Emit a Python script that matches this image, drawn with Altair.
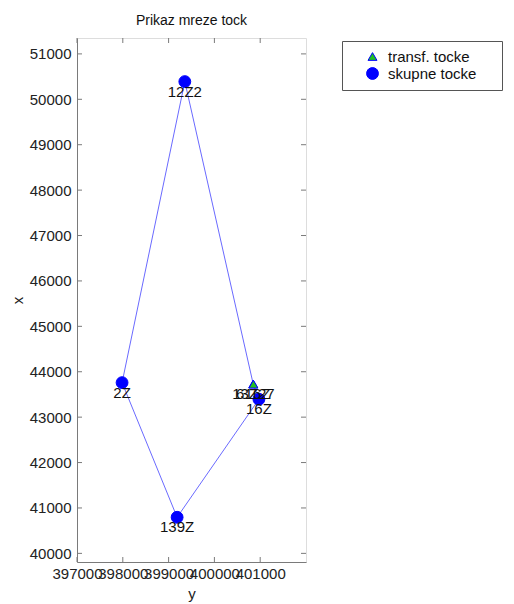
import altair as alt
import pandas as pd

# ---- data ----
names = ["12Z2", "2Z", "139Z", "16Z", "616Z", "13Z27"]
y_coord = [399354, 397984, 399186, 400972, 400847, 400852]   # easting (horizontal axis "y")
x_coord = [50390, 43760, 40795, 43394, 43731, 43726]         # northing (vertical axis "x")
kinds = ["skupne tocke", "skupne tocke", "skupne tocke", "skupne tocke",
         "transf. tocke", "transf. tocke"]

route = ["12Z2", "616Z", "16Z", "139Z", "2Z", "12Z2"]

x_ticks = [397000, 398000, 399000, 400000, 401000]
y_ticks = [40000, 41000, 42000, 43000, 44000, 45000, 46000,
           47000, 48000, 49000, 50000, 51000]

legend_order = ["transf. tocke", "skupne tocke"]

# ---- tables ----
pts = pd.DataFrame({"name": names, "yc": y_coord, "xc": x_coord, "kind": kinds})
lookup = {n: (a, b) for n, a, b in zip(names, y_coord, x_coord)}
line_df = pd.DataFrame({
    "step": list(range(len(route))),
    "yc": [lookup[n][0] for n in route],
    "xc": [lookup[n][1] for n in route],
})
xt_df = pd.DataFrame({"t": x_ticks})
yt_df = pd.DataFrame({"t": y_ticks})

W, H = 229, 524
FONT = "Liberation Sans"
AX = "#7a7a7a"

xs = alt.Scale(domain=[397000, 402000], nice=False, zero=False)
ys = alt.Scale(domain=[39810, 51350], nice=False, zero=False)

xenc = alt.X("yc:Q", scale=xs, title="y",
             axis=alt.Axis(values=x_ticks, format="d", ticks=False, grid=False,
                           labelFontSize=15, labelFont=FONT, labelColor="#222",
                           labelPadding=4, labelOverlap=False, labelFlush=False,
                           domainColor=AX, titleFont=FONT, titleFontSize=15,
                           titleFontWeight="normal", titleColor="#222", titlePadding=5))
yenc = alt.Y("xc:Q", scale=ys, title="x",
             axis=alt.Axis(values=y_ticks, format="d", ticks=False, grid=False,
                           labelFontSize=15, labelFont=FONT, labelColor="#222",
                           labelPadding=6, labelOverlap=False,
                           domainColor=AX, titleFont=FONT, titleFontSize=15,
                           titleFontWeight="normal", titleColor="#222", titlePadding=4))

line = alt.Chart(line_df).mark_line(color="#6a6aff", strokeWidth=1).encode(
    x=xenc, y=yenc, order="step:O")

PADTXT = "\u00a0" * 4 + "\u200b"
points = alt.Chart(pts).mark_point(filled=True, stroke="blue", strokeWidth=1, opacity=1).encode(
    x=alt.X("yc:Q", scale=xs),
    y=alt.Y("xc:Q", scale=ys),
    color=alt.Color("kind:N", title=None,
                    scale=alt.Scale(domain=legend_order, range=["#22c022", "#0000ff"]),
                    legend=alt.Legend(orient="none", legendX=265, legendY=3,
                                      strokeColor="#555", fillColor="white",
                                      padding=8, labelFontSize=15, labelFont=FONT,
                                      labelColor="#111", symbolStrokeColor="blue",
                                      symbolStrokeWidth=1, symbolOffset=15,
                                      labelOffset=8, rowPadding=0, labelLimit=300,
                                      labelExpr="datum.label + '" + PADTXT + "'")),
    shape=alt.Shape("kind:N", title=None,
                    scale=alt.Scale(domain=legend_order, range=["triangle-up", "circle"])),
    size=alt.Size("kind:N", title=None,
                  scale=alt.Scale(domain=legend_order, range=[80, 140])),
)

labels = alt.Chart(pts).mark_text(align="center", baseline="top", dy=3,
                                  fontSize=15, font=FONT, color="#111").encode(
    x=alt.X("yc:Q", scale=xs), y=alt.Y("xc:Q", scale=ys), text="name:N")

tick_x_bot = alt.Chart(xt_df).mark_rule(color=AX).encode(
    x=alt.X("t:Q", scale=xs), y=alt.value(H), y2=alt.value(H - 5))
tick_x_top = alt.Chart(xt_df).mark_rule(color=AX).encode(
    x=alt.X("t:Q", scale=xs), y=alt.value(0), y2=alt.value(5))
tick_y_left = alt.Chart(yt_df).mark_rule(color=AX).encode(
    y=alt.Y("t:Q", scale=ys), x=alt.value(0), x2=alt.value(5))
tick_y_right = alt.Chart(yt_df).mark_rule(color=AX).encode(
    y=alt.Y("t:Q", scale=ys), x=alt.value(W), x2=alt.value(W - 5))

chart = alt.layer(line, tick_x_bot, tick_x_top, tick_y_left, tick_y_right,
                  points, labels).properties(
    width=W, height=H,
    title=alt.TitleParams("Prikaz mreze tock", font=FONT, fontSize=14,
                          fontWeight="normal", color="#111", anchor="middle", offset=10),
    autosize=alt.AutoSizeParams(type="none"),
    padding={"left": 69, "top": 30, "right": 200, "bottom": 40},
).configure_view(stroke=AX, strokeWidth=1).configure(background="white")

chart.save("out.html", embed_options={"renderer": "svg", "actions": False})
